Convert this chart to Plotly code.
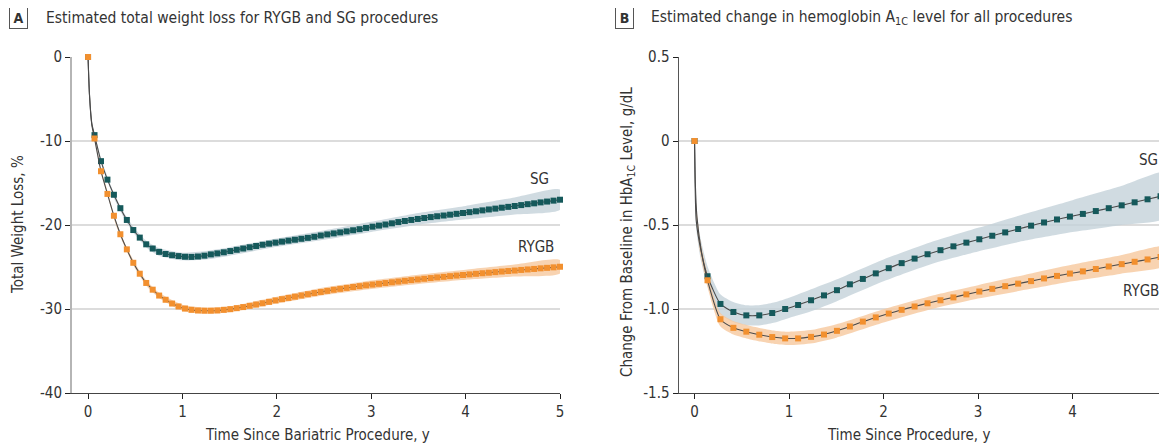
import plotly.graph_objects as go

# ---------------- DATA ----------------
# Panel A: total weight loss (%), markers every 25 days
days_a = list(range(0, 1826, 25))
sg_a = [0, -9.3, -12.4, -14.6, -16.4, -18.0, -19.4, -20.6, -21.5, -22.3, -22.8,
        -23.2, -23.45, -23.6, -23.7, -23.78, -23.8, -23.75, -23.65, -23.5, -23.38,
        -23.25, -23.1, -22.95, -22.8, -22.65, -22.5, -22.35, -22.22, -22.1, -21.98,
        -21.86, -21.75, -21.64, -21.53, -21.4, -21.25, -21.12, -21.0, -20.88, -20.76,
        -20.63, -20.5, -20.35, -20.2, -20.07, -19.94, -19.8, -19.65, -19.52, -19.4,
        -19.28, -19.17, -19.06, -18.96, -18.87, -18.77, -18.67, -18.57, -18.47, -18.37,
        -18.26, -18.15, -18.05, -17.94, -17.84, -17.74, -17.63, -17.52, -17.42, -17.31,
        -17.21, -17.1, -16.99]
rygb_a = [0, -9.7, -13.6, -16.3, -18.9, -21.1, -22.9, -24.5, -25.8, -26.9, -27.7,
          -28.4, -28.9, -29.35, -29.7, -29.95, -30.1, -30.18, -30.2, -30.2, -30.17,
          -30.1, -30.02, -29.9, -29.77, -29.62, -29.47, -29.32, -29.15, -28.98, -28.83,
          -28.68, -28.53, -28.39, -28.24, -28.1, -27.97, -27.84, -27.71, -27.6, -27.49,
          -27.38, -27.28, -27.18, -27.09, -27.0, -26.91, -26.82, -26.73, -26.64, -26.56,
          -26.48, -26.4, -26.32, -26.24, -26.17, -26.09, -26.02, -25.95, -25.88, -25.81,
          -25.74, -25.68, -25.61, -25.54, -25.48, -25.42, -25.35, -25.29, -25.23, -25.16,
          -25.1, -25.04, -24.97]
# early part of fitted curves (before first follow-up marker)
early_t_a = [0, 0.015, 0.04]
early_sg_a = [0, -4.4, -7.9]
early_rygb_a = [0, -4.5, -8.1]
# confidence bands, panel A
ci_t_a = [0, 0.04, 0.07, 0.14, 0.21, 0.27, 0.34, 0.41, 0.5, 0.62, 0.75, 1.0, 1.25,
          1.5, 2.0, 2.5, 3.0, 3.5, 4.0, 4.5, 5.0]
ci_sg_mid_a = [0, -7.9, -9.3, -12.4, -14.6, -16.4, -18.0, -19.4, -20.85, -22.3, -23.2,
               -23.75, -23.6, -23.15, -22.1, -21.2, -20.22, -19.27, -18.53, -17.77, -16.99]
ci_sg_hw_a = [0, 0.1, 0.15, 0.2, 0.25, 0.3, 0.3, 0.35, 0.35, 0.4, 0.45, 0.45, 0.5, 0.5,
              0.5, 0.55, 0.6, 0.7, 0.8, 1.0, 1.2]
ci_rygb_mid_a = [0, -8.1, -9.7, -13.6, -16.3, -18.9, -21.1, -22.9, -24.9, -26.95, -28.35,
                 -29.85, -30.2, -30.03, -28.95, -27.9, -27.11, -26.47, -25.92, -25.44, -24.97]
ci_rygb_hw_a = [0, 0.1, 0.15, 0.2, 0.2, 0.25, 0.25, 0.25, 0.3, 0.3, 0.3, 0.35, 0.35,
                0.35, 0.4, 0.45, 0.5, 0.55, 0.6, 0.7, 0.8]

# Panel B: change in HbA1c, markers every 50 days
days_b = list(range(0, 1801, 50))
sg_b = [0, -0.805, -0.970, -1.018, -1.038, -1.038, -1.024, -1.0, -0.976, -0.948,
        -0.919, -0.888, -0.853, -0.821, -0.788, -0.757, -0.727, -0.700, -0.674, -0.650,
        -0.627, -0.605, -0.585, -0.564, -0.544, -0.524, -0.504, -0.485, -0.467, -0.450,
        -0.434, -0.417, -0.400, -0.383, -0.365, -0.347, -0.329]
rygb_b = [0, -0.829, -1.061, -1.112, -1.135, -1.153, -1.167, -1.175, -1.175, -1.166,
          -1.152, -1.130, -1.104, -1.075, -1.050, -1.027, -1.005, -0.985, -0.966, -0.948,
          -0.931, -0.913, -0.896, -0.880, -0.864, -0.849, -0.834, -0.818, -0.803, -0.789,
          -0.776, -0.762, -0.747, -0.733, -0.719, -0.705, -0.690]
early_t_sg_b = [0, 0.006, 0.017, 0.06]
early_sg_b = [0, -0.27, -0.47, -0.63]
early_t_rygb_b = [0, 0.008, 0.025, 0.07]
early_rygb_b = [0, -0.25, -0.45, -0.65]
ci_t_b = [0, 0.006, 0.017, 0.06, 0.137, 0.27, 0.41, 0.55, 0.7, 0.85, 1.0, 1.25, 1.5,
          2.0, 2.5, 3.0, 3.5, 4.0, 4.5, 5.0]
ci_sg_mid_b = [0, -0.27, -0.47, -0.63, -0.805, -0.97, -1.018, -1.038, -1.036, -1.02,
               -0.993, -0.945, -0.89, -0.77, -0.668, -0.587, -0.513, -0.447, -0.386, -0.32]
ci_sg_hw_b = [0.03, 0.04, 0.05, 0.06, 0.06, 0.06, 0.06, 0.06, 0.06, 0.06, 0.06, 0.065,
              0.065, 0.065, 0.065, 0.07, 0.08, 0.095, 0.115, 0.135]
ci_rygb_mid_b = [0, -0.22, -0.42, -0.63, -0.829, -1.061, -1.112, -1.135, -1.154, -1.169,
                 -1.175, -1.164, -1.131, -1.041, -0.962, -0.898, -0.841, -0.785, -0.736, -0.683]
ci_rygb_hw_b = [0.02, 0.03, 0.04, 0.04, 0.04, 0.04, 0.04, 0.04, 0.04, 0.04, 0.04, 0.04,
                0.04, 0.04, 0.04, 0.04, 0.045, 0.05, 0.055, 0.057]

yticks_a = [0, -10, -20, -30, -40]
yticklabels_a = ["0", "-10", "-20", "-30", "-40"]
yticks_b = [0.5, 0, -0.5, -1.0, -1.5]
yticklabels_b = ["0.5", "0", "-0.5", "-1.0", "-1.5"]
xticks = [0, 1, 2, 3, 4, 5]

# ---------------- STYLE ----------------
OX, OY = 8, 8                 # page body margin offset
W, H = 1167 - OX, 444 - OY
FONT = "DejaVu Sans Condensed, Liberation Sans Narrow, sans-serif"
SG_C = "#15595B"
RY_C = "#F2902F"
SG_BAND = "rgba(196,210,217,0.8)"
RY_BAND = "rgba(246,200,158,0.8)"
LINE_C = "#4a4a4a"
TXT = "#333333"

to_yr_a = [d / 365 for d in days_a]
to_yr_b = [d / 365 for d in days_b]

fig = go.Figure()


def band(xs, mid, hw, color, xa, ya):
    lo = [m - h for m, h in zip(mid, hw)]
    hi = [m + h for m, h in zip(mid, hw)]
    fig.add_trace(go.Scatter(x=xs + xs[::-1], y=hi + lo[::-1], fill="toself",
                             fillcolor=color, line=dict(width=0, shape="spline", smoothing=0.6),
                             mode="lines", hoverinfo="skip", showlegend=False,
                             xaxis=xa, yaxis=ya))


def series(xs, ys, ex, ey, color, xa, ya):
    fig.add_trace(go.Scatter(x=ex + xs[1:], y=ey + ys[1:], mode="lines",
                             line=dict(color=LINE_C, width=1.1, shape="spline", smoothing=0.6),
                             showlegend=False, xaxis=xa, yaxis=ya, cliponaxis=False))
    fig.add_trace(go.Scatter(x=xs, y=ys, mode="markers",
                             marker=dict(symbol="square", size=6, color=color, line=dict(width=0)),
                             showlegend=False, xaxis=xa, yaxis=ya, cliponaxis=False))


band(ci_t_a, ci_sg_mid_a, ci_sg_hw_a, SG_BAND, "x", "y")
band(ci_t_a, ci_rygb_mid_a, ci_rygb_hw_a, RY_BAND, "x", "y")
series(to_yr_a, sg_a, early_t_a, early_sg_a, SG_C, "x", "y")
series(to_yr_a, rygb_a, early_t_a, early_rygb_a, RY_C, "x", "y")

band(ci_t_b, ci_sg_mid_b, ci_sg_hw_b, SG_BAND, "x2", "y2")
band(ci_t_b, ci_rygb_mid_b, ci_rygb_hw_b, RY_BAND, "x2", "y2")
series(to_yr_b, sg_b, early_t_sg_b, early_sg_b, SG_C, "x2", "y2")
series(to_yr_b, rygb_b, early_t_rygb_b, early_rygb_b, RY_C, "x2", "y2")


def px(v):
    return (v - OX) / W


def py(v):
    return 1 - (v - OY) / H


tickfont = dict(size=15, color=TXT, family=FONT)
xcommon = dict(showgrid=False, zeroline=False, ticks="outside", ticklen=5, tickcolor="#222",
               tickwidth=1, tickfont=tickfont, automargin=False, showline=True,
               linecolor="#444", linewidth=1, range=[-0.17, 5], tickvals=xticks,
               ticklabeloverflow="allow")
ycommon = dict(zeroline=False, ticks="outside", ticklen=5, tickcolor="#222", tickwidth=1,
               tickfont=tickfont, automargin=False, showline=True, showgrid=True,
               gridcolor="#dcdcdc", gridwidth=2)

fig.update_layout(
    width=W, height=H, margin=dict(l=0, r=0, t=0, b=0, pad=0, autoexpand=False),
    paper_bgcolor="white", plot_bgcolor="white", font=dict(family=FONT, color=TXT),
    xaxis=dict(domain=[px(72), px(560)], anchor="y", **xcommon),
    yaxis=dict(domain=[py(393), py(57)], range=[-40, 0], tickvals=yticks_a,
               ticktext=yticklabels_a, linecolor="#b5b5b5", linewidth=2, anchor="x", **ycommon),
    xaxis2=dict(domain=[px(678.5), 1.0], anchor="y2", **xcommon),
    yaxis2=dict(domain=[py(393), py(57)], range=[-1.5, 0.5], tickvals=yticks_b,
                ticktext=yticklabels_b, linecolor="#555", linewidth=1, anchor="x2", **ycommon),
)

ann = []


def add_text(text, x, y, size=15, xanchor="center", angle=0, **kw):
    ann.append(dict(text=text, x=px(x), y=py(y), xref="paper", yref="paper",
                    xanchor=xanchor, yanchor="middle", textangle=angle, showarrow=False,
                    font=dict(size=size, color=TXT, family=FONT), **kw))


# panel labels and titles
add_text("<b>A</b>", 18.5, 18, size=14, bordercolor="#555", borderwidth=1, borderpad=2,
         width=13, height=16)
add_text("Estimated total weight loss for RYGB and SG procedures", 44, 18, size=15.5,
         xanchor="left")
add_text("<b>B</b>", 624.5, 18, size=14, bordercolor="#555", borderwidth=1, borderpad=2,
         width=13, height=16)
add_text("Estimated change in hemoglobin A<sub>1C</sub> level for all procedures", 649, 18,
         size=15.5, xanchor="left")
# axis titles
add_text("Time Since Bariatric Procedure, y", 317, 435)
add_text("Time Since Procedure, y", 908, 435)
add_text("Total Weight Loss, %", 18, 225, angle=-90)
add_text("Change From Baseline in HbA<sub>1C</sub> Level, g/dL", 627, 232, angle=-90)
# series labels
for t, xx, yy in [("SG", 551, 179), ("RYGB", 556, 247), ("SG", 1160, 160),
                  ("RYGB", 1161, 291)]:
    add_text(t, xx, yy, xanchor="right")
fig.update_layout(annotations=ann)

fig.write_html("out.html")
